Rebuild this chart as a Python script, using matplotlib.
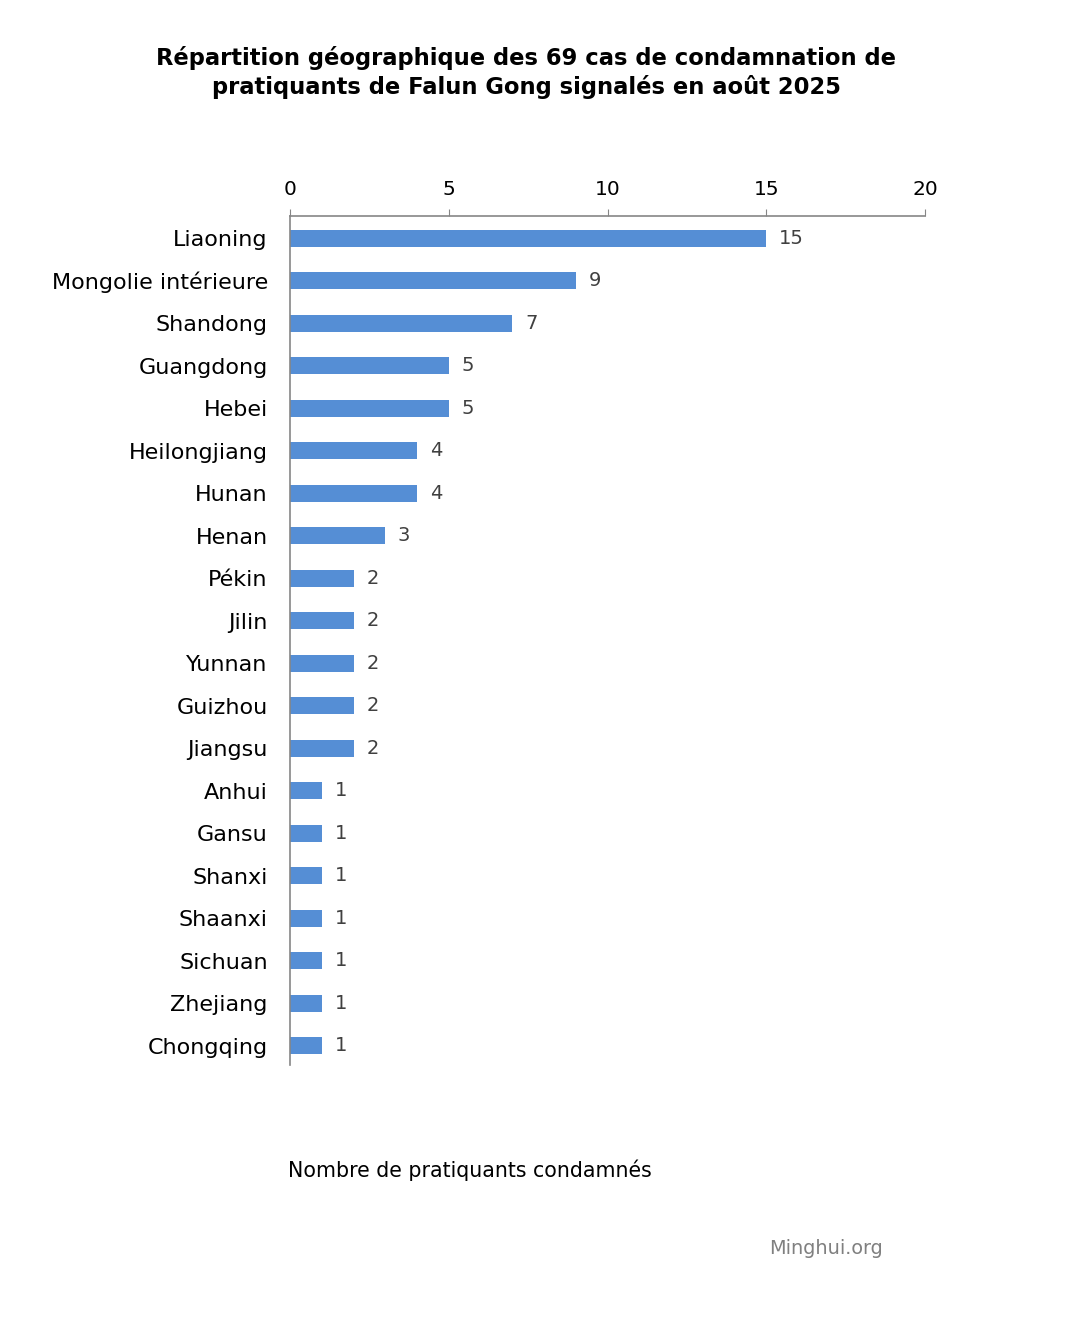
import matplotlib.pyplot as plt

provinces = ["Liaoning", "Mongolie intérieure", "Shandong", "Guangdong", "Hebei",
             "Heilongjiang", "Hunan", "Henan", "Pékin", "Jilin", "Yunnan", "Guizhou",
             "Jiangsu", "Anhui", "Gansu", "Shanxi", "Shaanxi", "Sichuan", "Zhejiang",
             "Chongqing"]
cases = [15, 9, 7, 5, 5, 4, 4, 3, 2, 2, 2, 2, 2, 1, 1, 1, 1, 1, 1, 1]
x_ticks = [0, 5, 10, 15, 20]

plt.rcParams["font.family"] = ["DejaVu Sans"]

fig = plt.figure(figsize=(10.85, 13.22), dpi=100)
ax = fig.add_axes([0.2673, 0.1944, 0.5853, 0.6422])

pos = list(range(len(provinces)))
ax.barh(pos, cases, height=0.4, color="#558ed5")
for p, v in zip(pos, cases):
    ax.text(v + 0.4, p, str(v), va="center", ha="left", fontsize=14, color="#404040")

ax.set_xlim(0, 20)
ax.set_ylim(len(provinces) - 0.55, -0.52)
ax.set_xticks(x_ticks)
ax.set_yticks(pos)
ax.set_yticklabels(provinces)
ax.xaxis.tick_top()
ax.tick_params(axis="x", direction="out", length=5, color="#868686", labelsize=14.5, pad=7)
ax.tick_params(axis="y", length=0, labelsize=16, pad=16)

for s in ["right", "bottom"]:
    ax.spines[s].set_visible(False)
for s in ["top", "left"]:
    ax.spines[s].set_color("#868686")
    ax.spines[s].set_linewidth(1.2)

fig.text(526 / 1085, 1 - 46 / 1322,
         "Répartition géographique des 69 cas de condamnation de\n"
         "pratiquants de Falun Gong signalés en août 2025",
         ha="center", va="top", fontsize=16.3, fontweight="bold", linespacing=1.25)
fig.text(288 / 1085, 1 - 1170 / 1322, "Nombre de pratiquants condamnés",
         ha="left", va="center", fontsize=14.8)
fig.text(883 / 1085, 1 - 1249 / 1322, "Minghui.org",
         ha="right", va="center", fontsize=13.9, color="#808080")

fig.savefig("out.png", dpi=100)
